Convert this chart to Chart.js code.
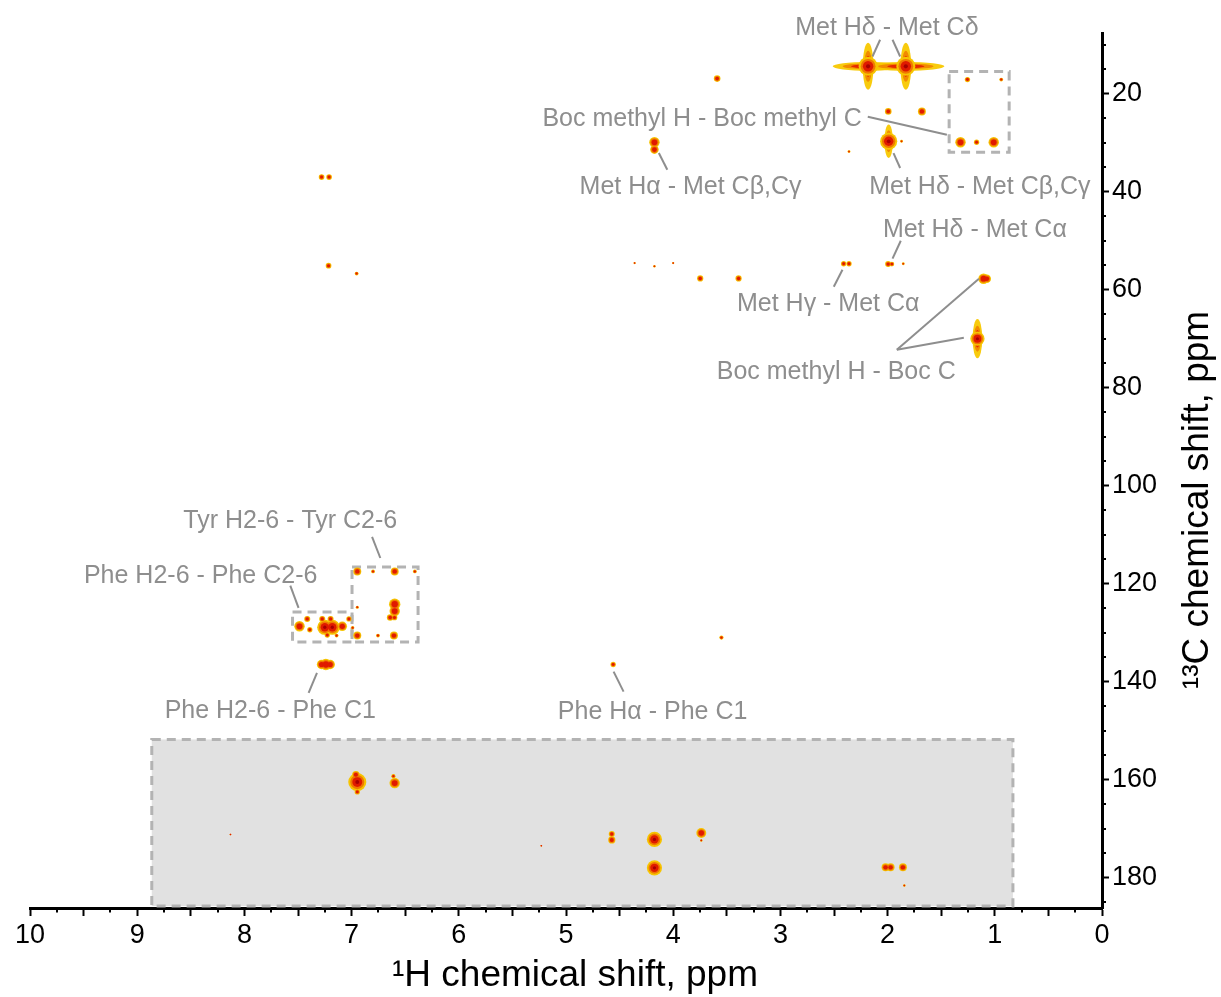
<!DOCTYPE html>
<html><head><meta charset="utf-8">
<script src="https://cdn.jsdelivr.net/npm/chart.js@4.4.0/dist/chart.umd.min.js"></script>
<style>html,body{margin:0;padding:0;background:#fff;overflow:hidden}#wrap{width:1221px;height:997px}</style>
</head><body><div id="wrap"><canvas id="c" width="1221" height="997"></canvas></div>
<script>
// ---------- data ----------
// x axis: 1H chemical shift (ppm), y axis: 13C chemical shift (ppm)
const xTickValues = [0,1,2,3,4,5,6,7,8,9,10];
const xTickLabels = ['0','1','2','3','4','5','6','7','8','9','10'];
const yTickValues = [20,40,60,80,100,120,140,160,180];
const yTickLabels = ['20','40','60','80','100','120','140','160','180'];

// cross-peaks: 1H ppm, 13C ppm, relative intensity
const peakH = [
  2.182,1.830,3.59,1.994,1.68,1.99,2.36,1.87,1.32,1.17,1.01,1.255,0.94,
  4.175,4.175,7.28,7.21,7.215,6.953,4.36,4.175,4.00,3.748,3.39,2.41,2.36,
  1.995,1.96,1.854,1.105,1.075,1.162,
  7.486,7.414,7.39,7.274,7.25,7.18,7.196,7.227,7.14,7.087,7.025,6.99,
  6.947,6.80,6.598,6.41,6.947,6.598,6.598,6.64,6.60,6.947,6.754,6.605,
  7.28,7.24,7.20,3.55,4.56,
  6.947,6.96,6.947,6.598,6.61,8.13,4.573,4.573,4.175,4.175,3.738,3.738,
  2.019,1.972,1.857,1.844,5.23
];
const peakC = [
  14.4,14.4,16.9,23.6,23.6,29.7,31.8,29.7,29.9,29.9,29.9,17.1,17.1,
  29.9,31.4,37.0,37.0,55.1,56.7,54.55,55.2,54.55,57.7,57.7,54.7,54.7,
  54.76,54.76,54.7,57.76,57.76,70.0,
  128.7,127.2,129.4,127.2,128.9,128.9,127.2,130.5,130.6,128.7,127.2,129.0,
  117.5,117.5,117.5,117.5,124.8,124.2,125.6,126.9,126.9,130.6,130.6,130.6,
  136.5,136.5,136.5,131.0,136.5,
  160.5,159.0,162.5,160.7,159.3,171.2,171.1,172.3,172.2,178.0,170.9,172.4,
  177.9,177.9,177.9,181.6,173.5
];
const peakIntensity = [
  1.0,1.0,0.35,0.35,0.42,0.9,0.15,0.15,0.55,0.28,0.55,0.28,0.2,
  0.55,0.45,0.3,0.3,0.3,0.2,0.12,0.13,0.12,0.33,0.33,0.28,0.28,
  0.32,0.25,0.15,0.55,0.45,0.75,
  0.55,0.32,0.28,0.32,0.8,0.8,0.32,0.28,0.2,0.5,0.28,0.18,
  0.42,0.2,0.42,0.2,0.16,0.6,0.55,0.35,0.3,0.42,0.2,0.42,
  0.5,0.6,0.5,0.22,0.28,
  0.95,0.4,0.28,0.55,0.22,0.08,0.32,0.38,0.8,0.8,0.52,0.13,
  0.42,0.42,0.42,0.13,0.07
];

// streaks (t1-noise ridges) of the strongest peaks: centre and half-extent in ppm
const ridgeH = [2.182,1.830,2.182,1.830,1.99,1.162];
const ridgeC = [14.4,14.4,14.4,14.4,29.7,70.0];
const ridgeSpanH = [0.33,0.36,0.05,0.05,0.04,0.045];
const ridgeSpanC = [0.9,0.9,4.8,4.8,3.4,4.0];

// highlighted regions (ppm)
const shadedRegion = [8.864, 0.831, 151.8, 185.8];
const boxH1 = [1.426, 7.551, 6.996];
const boxH2 = [0.866, 6.996, 6.380];
const boxC1 = [15.45, 125.8, 116.6];
const boxC2 = [31.96, 131.9, 131.9];

// annotation labels (anchored in ppm)
const labelText = [
  'Met Hδ - Met Cδ','Boc methyl H - Boc methyl C','Met Hα - Met Cβ,Cγ','Met Hδ - Met Cβ,Cγ',
  'Met Hδ - Met Cα','Met Hγ - Met Cα','Boc methyl H - Boc C','Tyr H2-6 - Tyr C2-6',
  'Phe H2-6 - Phe C2-6','Phe H2-6 - Phe C1','Phe Hα - Phe C1'
];
const labelH = [2.007,3.730,3.838,1.139,1.186,2.554,2.479,7.572,8.408,7.759,4.192];
const labelC = [6.6,25.1,39.1,39.1,47.9,63.0,76.9,107.3,118.5,146.1,146.2];

// connector lines [h1, c1, h2, c2]
const connectors = [
  [2.070,8.98,2.141,12.39],[1.954,8.98,1.883,12.39],
  [2.185,24.69,1.447,28.37],
  [1.945,32.10,1.883,35.16],
  [4.134,32.10,4.055,35.51],
  [1.877,50.0,1.954,53.67],
  [2.421,55.92,2.502,59.39],
  [1.914,72.24,1.148,57.76],[1.914,72.24,1.289,69.80],
  [6.809,110.47,6.732,114.76],
  [7.572,120.41,7.495,124.96],
  [7.323,138.22,7.401,142.31],
  [4.556,137.96,4.463,142.04]
];

// ---------- chart ----------
const pts = peakH.map((h,i)=>({x:h,y:peakC[i]}));
const R = 9.5;
function layer(color, f, minI){
  const rad = c => { const I = peakIntensity[c.dataIndex]; return (minI && I < minI) ? 0 : Math.max(I*R*f, 0.8); };
  return { data: pts, backgroundColor: color, borderWidth: 0, pointRadius: rad, pointHoverRadius: rad };
}

const annot = {
  id:'annot',
  beforeDatasetsDraw(chart){
    const {ctx, scales:{x,y}} = chart;
    const X = v=>x.getPixelForValue(v), Y = v=>y.getPixelForValue(v);
    ctx.save();
    const [sh1,sh2,sc1,sc2] = shadedRegion;
    ctx.fillStyle = '#e1e1e1';
    ctx.fillRect(X(sh1), Y(sc1), X(sh2)-X(sh1), Y(sc2)-Y(sc1));
    ctx.setLineDash([9,6]); ctx.lineWidth = 3; ctx.strokeStyle = '#b3b3b3';
    ctx.strokeRect(X(sh1), Y(sc1), X(sh2)-X(sh1), Y(sc2)-Y(sc1));
    for (let i=0;i<boxH1.length;i++){
      ctx.strokeRect(X(boxH1[i]), Y(boxC1[i]), X(boxH2[i])-X(boxH1[i]), Y(boxC2[i])-Y(boxC1[i]));
    }
    ctx.setLineDash([]);
    const cols = [['rgba(248,200,0,0.95)',1,1],['#f18a00',0.72,0.66],['#e62a00',0.48,0.45],['#c00000',0.24,0.22]];
    for (let i=0;i<ridgeH.length;i++){
      const cx = X(ridgeH[i]), cy = Y(ridgeC[i]);
      const rx = Math.abs(X(ridgeH[i]+ridgeSpanH[i])-cx), ry = Math.abs(Y(ridgeC[i]+ridgeSpanC[i])-cy);
      for (const [col,fx,fy] of cols){
        ctx.beginPath();
        ctx.ellipse(cx, cy, Math.max(rx*fx,0.8), Math.max(ry*fy,0.8), 0, 0, Math.PI*2);
        ctx.fillStyle = col; ctx.fill();
      }
    }
    ctx.restore();
  },
  afterDatasetsDraw(chart){
    const {ctx, scales:{x,y}} = chart;
    const X = v=>x.getPixelForValue(v), Y = v=>y.getPixelForValue(v);
    ctx.save();
    ctx.strokeStyle = '#8e8e8e'; ctx.lineWidth = 2;
    for (const [h1,c1,h2,c2] of connectors){
      ctx.beginPath(); ctx.moveTo(X(h1),Y(c1)); ctx.lineTo(X(h2),Y(c2)); ctx.stroke();
    }
    ctx.fillStyle = '#8e8e8e';
    ctx.font = '25px "Liberation Sans", Arial, sans-serif';
    ctx.textAlign = 'center'; ctx.textBaseline = 'middle';
    for (let i=0;i<labelText.length;i++){
      ctx.fillText(labelText[i], X(labelH[i]), Y(labelC[i]));
    }
    ctx.restore();
  },
  afterDraw(chart){
    const {ctx, chartArea:a, scales:{x,y}} = chart;
    ctx.save();
    ctx.strokeStyle = '#000'; ctx.lineWidth = 2;
    for (let v=0; v<=10.001; v+=0.25){
      if (Math.abs(v*2 - Math.round(v*2))<1e-6) continue;
      const px = Math.round(x.getPixelForValue(v));
      ctx.beginPath(); ctx.moveTo(px, a.bottom); ctx.lineTo(px, a.bottom+4.5); ctx.stroke();
    }
    for (let v=10; v<=185; v+=5){
      if (v%20===0) continue;
      const py = Math.round(y.getPixelForValue(v));
      ctx.beginPath(); ctx.moveTo(a.right, py); ctx.lineTo(a.right+4, py); ctx.stroke();
    }
    ctx.fillStyle = '#000';
    ctx.font = '37px "Liberation Sans", Arial, sans-serif';
    ctx.textAlign = 'center'; ctx.textBaseline = 'alphabetic';
    ctx.fillText('¹H chemical shift, ppm', 575, 986);
    ctx.translate(1208, 500); ctx.rotate(-Math.PI/2);
    ctx.fillText('¹³C chemical shift, ppm', 0, 0);
    ctx.restore();
  }
};

new Chart(document.getElementById('c'), {
  type: 'scatter',
  data: { datasets: [
    layer('#a80000', 0.22, 0.7),
    layer('#e01a00', 0.55),
    layer('#f07800', 0.78),
    layer('#f6c400', 1.0)
  ]},
  options: {
    responsive: false, animation: false, devicePixelRatio: 1,
    layout: { padding: { top: 33, left: 30, right: 0, bottom: 0 } },
    plugins: { legend:{display:false}, tooltip:{enabled:false} },
    events: [],
    scales: {
      x: {
        type: 'linear', reverse: true, min: 0, max: 10,
        afterBuildTicks: s => { const t=[]; for(let v=0; v<=10.001; v+=0.5) t.push({value: Math.round(v*2)/2}); s.ticks = t; },
        afterFit: s => { s.height = 89; },
        ticks: { autoSkip:false, maxRotation:0, padding: 3, color:'#000',
          font:{family:'"Liberation Sans", Arial, sans-serif', size:27},
          callback: v => { const i = xTickValues.indexOf(v); return i>=0 ? xTickLabels[i] : ''; } },
        grid: { drawOnChartArea:false, drawTicks:true, tickLength:8, tickWidth:2, tickColor:'#000' },
        border: { display:true, color:'#000', width:3 }
      },
      y: {
        type: 'linear', position: 'right', reverse: true, min: 7.6, max: 186.2,
        afterBuildTicks: s => { s.ticks = yTickValues.map(v=>({value:v})); },
        afterFit: s => { s.width = 119; },
        ticks: { autoSkip:false, padding: 3, color:'#000',
          font:{family:'"Liberation Sans", Arial, sans-serif', size:27},
          callback: v => { const i = yTickValues.indexOf(v); return i>=0 ? yTickLabels[i] : ''; } },
        grid: { drawOnChartArea:false, drawTicks:true, tickLength:7, tickWidth:2, tickColor:'#000' },
        border: { display:true, color:'#000', width:3 }
      }
    }
  },
  plugins: [annot]
});
</script>
</body></html>
